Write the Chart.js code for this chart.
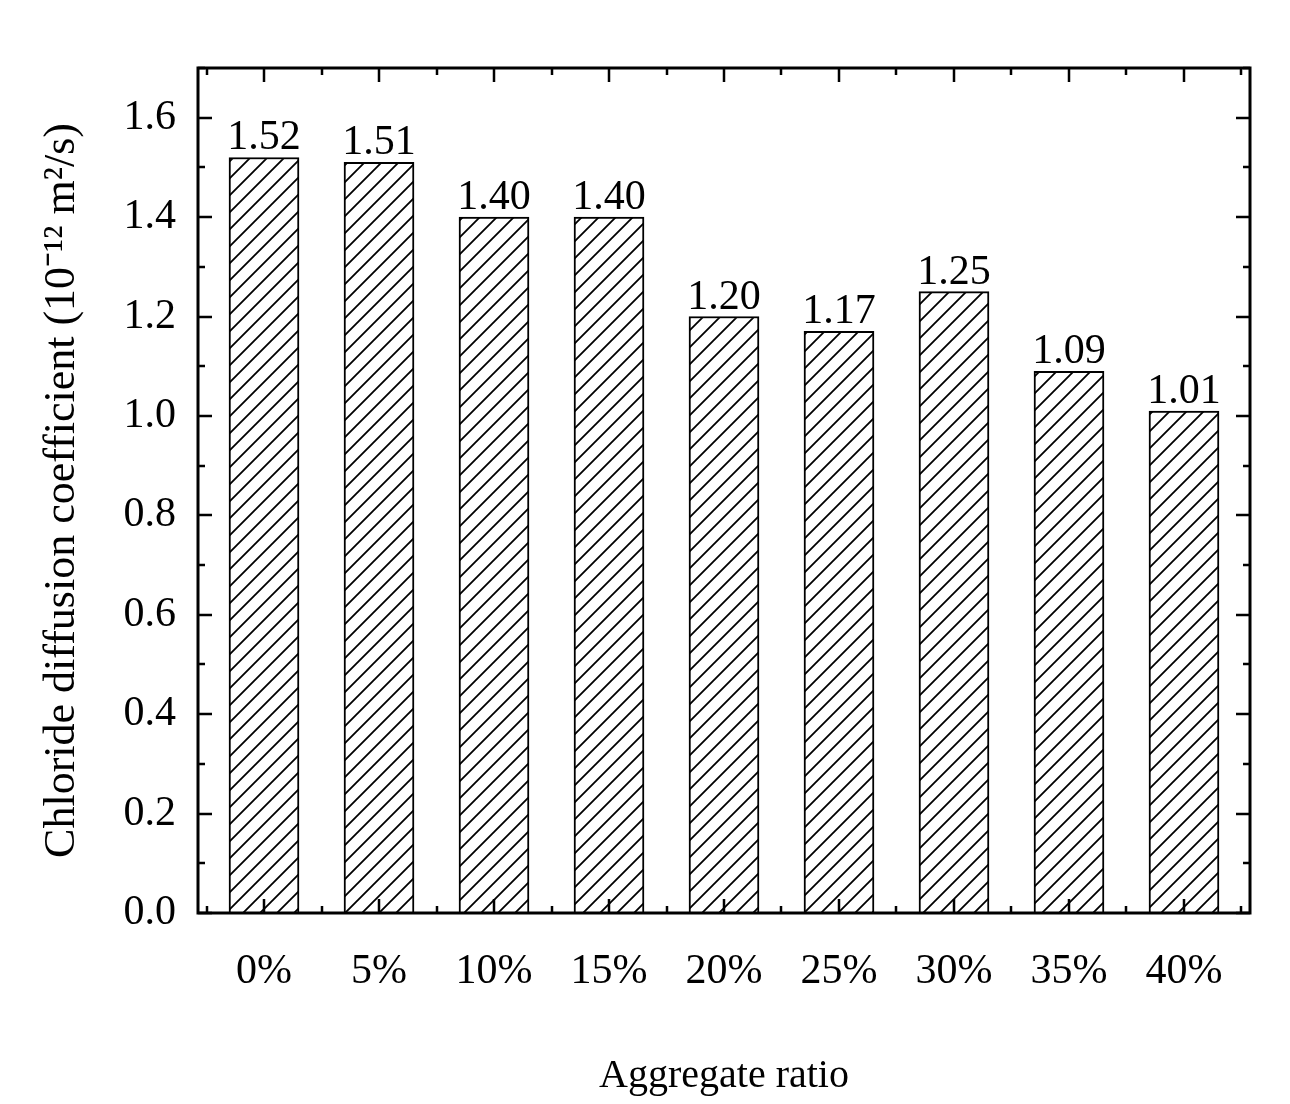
<!DOCTYPE html>
<html><head><meta charset="utf-8">
<script src="https://cdn.jsdelivr.net/npm/chart.js@4"></script>
<style>body{margin:0;background:#fff}#wrap{width:1290px;height:1104px}</style>
</head><body><div id="wrap"><canvas id="myChart"></canvas></div>
<script>
var categories = ['0%','5%','10%','15%','20%','25%','30%','35%','40%'];
var coefValues = [1.52,1.51,1.40,1.40,1.20,1.17,1.25,1.09,1.01];
var yTicks = [0,0.2,0.4,0.6,0.8,1.0,1.2,1.4,1.6];

var FONT = '"Liberation Serif","Times New Roman",serif';

// diagonal hatch
function hatch(){
  var s = 17;
  var c = document.createElement('canvas');
  c.width = s; c.height = s;
  var g = c.getContext('2d');
  g.fillStyle = '#fff'; g.fillRect(0,0,s,s);
  g.strokeStyle = '#000'; g.lineWidth = 1.8;
  g.beginPath();
  g.moveTo(-2,s+2); g.lineTo(s+2,-2);
  g.moveTo(-s-2,s+2); g.lineTo(s+2,-s-2);
  g.moveTo(-2,2*s+2); g.lineTo(2*s+2,-2);
  g.stroke();
  return g.createPattern(c,'repeat');
}

var framePlugin = {
  id:'frame',
  afterDatasetsDraw: function(chart){
    var ctx = chart.ctx, a = chart.chartArea;
    var x = chart.scales.x, y = chart.scales.y;
    ctx.save();
    ctx.strokeStyle = '#000'; ctx.lineWidth = 3;
    ctx.strokeRect(a.left, a.top, a.right-a.left, a.bottom-a.top);
    ctx.lineWidth = 2.5;
    ctx.beginPath();
    for (var v = 0; v <= 1.7001; v += 0.1){
      var py = Math.round(y.getPixelForValue(v));
      var major = Math.abs(v*5 - Math.round(v*5)) < 1e-6;
      var L = major ? 14 : 7;
      ctx.moveTo(a.left, py); ctx.lineTo(a.left+L, py);
      ctx.moveTo(a.right, py); ctx.lineTo(a.right-L, py);
    }
    for (var i = -0.5; i <= 8.5001; i += 0.5){
      var px = Math.round(x.getPixelForValue(i));
      var L2 = (Math.abs(i - Math.round(i)) < 1e-6) ? 14 : 7;
      ctx.moveTo(px, a.bottom); ctx.lineTo(px, a.bottom-L2);
      ctx.moveTo(px, a.top); ctx.lineTo(px, a.top+L2);
    }
    ctx.stroke();
    // value labels
    ctx.fillStyle = '#000';
    ctx.font = '42px ' + FONT;
    ctx.textAlign = 'center'; ctx.textBaseline = 'alphabetic';
    chart.getDatasetMeta(0).data.forEach(function(bar, k){
      ctx.fillText(coefValues[k].toFixed(2), bar.x, bar.y - 8);
    });
    ctx.restore();
  }
};

new Chart(document.getElementById('myChart'), {
  type: 'bar',
  data: {
    datasets: [{
      data: coefValues.map(function(v,i){ return {x:i, y:v}; }),
      backgroundColor: hatch(),
      borderColor: '#000',
      borderWidth: 2,
      barThickness: 70
    }]
  },
  options: {
    responsive: true,
    maintainAspectRatio: false,
    animation: false,
    layout: { padding: { left: 0, top: 68, right: 40, bottom: 0 } },
    plugins: { legend: { display: false }, tooltip: { enabled: false } },
    scales: {
      x: {
        type: 'linear', min: -0.574, max: 8.574, offset: false,
        afterBuildTicks: function(s){ s.ticks = categories.map(function(c,i){ return {value:i}; }); },
        afterFit: function(s){ s.height = 191; },
        grid: { display: false }, border: { display: false },
        ticks: { color:'#000', padding: 26, maxRotation: 0, autoSkip: false,
          font: { family: FONT, size: 42 },
          callback: function(v){ return categories[v]; } },
        title: { display: true, text: 'Aggregate ratio', color:'#000',
          font: { family: FONT, size: 40 }, padding: { top: 24 } }
      },
      y: {
        min: 0, max: 1.7,
        afterBuildTicks: function(s){ s.ticks = yTicks.map(function(v){ return {value:v}; }); },
        afterFit: function(s){ s.width = 198; },
        grid: { display: false }, border: { display: false },
        ticks: { color:'#000', padding: 14, font: { family: FONT, size: 42 },
          callback: function(v){ return v.toFixed(1); } },
        title: { display: true, text: 'Chloride diffusion coefficient (10\u207B\u00B9\u00B2 m\u00B2/s)',
          color:'#000', font: { family: FONT, size: 44 }, padding: { top: 36, bottom: 4 } }
      }
    }
  },
  plugins: [framePlugin]
});
</script>
</body></html>
